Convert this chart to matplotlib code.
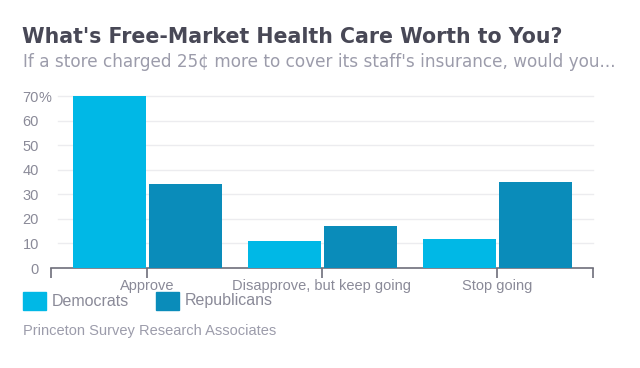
import matplotlib
matplotlib.use("Agg")
import matplotlib.pyplot as plt
from matplotlib.patches import Rectangle
import numpy as np

# data
categories = ["Approve", "Disapprove, but keep going", "Stop going"]
democrats = [70, 11, 12]
republicans = [34, 17, 35]
yticks = [0, 10, 20, 30, 40, 50, 60, 70]

dem_color = "#00b8e6"
rep_color = "#0a8cba"
title_color = "#484856"
sub_color = "#9c9cab"
label_color = "#8a8a98"
small_font = "Liberation Sans"

fig = plt.figure(figsize=(6.4, 3.68), dpi=100)
W, H = 640, 368

# axes: x from 51 to 593 px, baseline at y=268, 10 units = 24.57 px
px10 = 24.57
ymax = 72
bottom = 268
top = bottom - ymax / 10 * px10
ax = fig.add_axes([51 / W, (H - bottom) / H, (593 - 51) / W, (bottom - top) / H])

x = np.arange(len(categories))
step = 175.0
w = 73 / step
off = 38 / step
ax.bar(x - off, democrats, width=w, color=dem_color, zorder=3)
ax.bar(x + off, republicans, width=w, color=rep_color, zorder=3)

ax.set_xlim(-96 / step, 2 + 96 / step)
ax.set_ylim(0, ymax)

for s in ["top", "right", "left"]:
    ax.spines[s].set_visible(False)
ax.spines["bottom"].set_color("#6e6e7a")
ax.spines["bottom"].set_linewidth(1.2)

# gridlines
for t in yticks[1:]:
    ax.plot([-96 / step + 7 / step, 2 + 96 / step], [t, t], color="#ececef",
            lw=1.0, zorder=1, clip_on=False)

ax.set_yticks(yticks)
ax.set_yticklabels([str(t) for t in yticks])
ax.tick_params(axis="y", length=0, pad=8.6, labelsize=10.5, labelcolor=label_color)
for lbl in ax.get_yticklabels():
    lbl.set_fontfamily(small_font)
    lbl.set_verticalalignment("center_baseline")
ax.text(-96 / step - 12 / step, 70, "%", ha="left", va="center_baseline", fontsize=10.5,
        color=label_color, family=small_font)

tick_pos = [-96 / step, 0, 1, 2, 2 + 96 / step]
ax.set_xticks(tick_pos)
ax.set_xticklabels(["", categories[0], categories[1], categories[2], ""])
ax.tick_params(axis="x", direction="out", length=7, width=1.2, color="#6e6e7a",
               pad=1, labelsize=10.5, labelcolor=label_color)
for lbl in ax.get_xticklabels():
    lbl.set_fontfamily(small_font)

# titles
fig.text(22 / W, 1 - 43 / H, "What's Free-Market Health Care Worth to You?",
         fontsize=14.8, fontweight="bold", color=title_color,
         family="DejaVu Sans", va="baseline")
fig.text(23 / W, 1 - 67 / H,
         "If a store charged 25\u00a2 more to cover its staff's insurance, would you...",
         fontsize=12.2, color=sub_color, family="DejaVu Sans", va="baseline")

# legend
for xs, name, c in [(23, "Democrats", dem_color), (156, "Republicans", rep_color)]:
    fig.patches.append(Rectangle((xs / W, 1 - 310 / H), 23 / W, 18 / H,
                                 transform=fig.transFigure, color=c))
    fig.text((xs + 29) / W, 1 - 301 / H, name, fontsize=11.5, color=label_color,
             family=small_font, va="center")

fig.text(23 / W, 1 - 331 / H, "Princeton Survey Research Associates",
         fontsize=10.5, color=sub_color, family=small_font, va="center")

fig.savefig("out.png", dpi=100)
